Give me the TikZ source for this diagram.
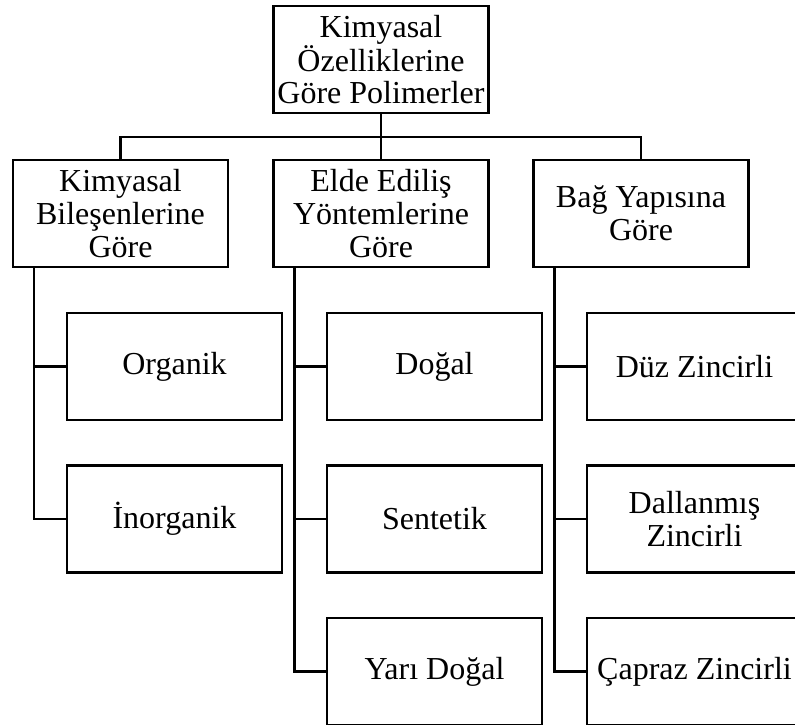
\documentclass[tikz,border=0pt]{standalone}
\usepackage{fontspec}
\setmainfont{Liberation Serif}
\begin{document}
\begin{tikzpicture}[x=1pt,y=-1pt,
  box/.style={draw=black,line width=2.7pt,minimum width=215pt,minimum height=107pt,
    inner sep=0pt,outer sep=0pt,align=center,font=\fontsize{32}{32.7}\selectfont},
  link/.style={draw=black,line width=2.7pt,line cap=rect}]
\useasboundingbox (0,0) rectangle (795,724);
\clip (0,0) rectangle (795,724);
\fill[white] (0,0) rectangle (795,724);
% top
\node[box] (top) at (381,59.5) {Kimyasal\\Özelliklerine\\Göre Polimerler};
% parents
\node[box] (p1) at (120.5,213.5) {Kimyasal\\Bileşenlerine\\Göre};
\node[box] (p2) at (381,213.5) {Elde Ediliş\\Yöntemlerine\\Göre};
\node[box] (p3) at (641,213.5) {Bağ Yapısına\\Göre};
% children
\node[box] (c11) at (174.5,366.5) {Organik};
\node[box] (c12) at (174.5,519) {İnorganik};
\node[box] (c21) at (434.5,366.5) {Doğal};
\node[box] (c22) at (434.5,519) {Sentetik};
\node[box] (c23) at (434.5,671.5) {Yarı Doğal};
\node[box] (c31) at (694.5,366.5) {Düz Zincirli};
\node[box] (c32) at (694.5,519) {Dallanmış\\Zincirli};
\node[box] (c33) at (694.5,671.5) {Çapraz Zincirli};
% connectors
\coordinate (bus) at (381,137);
\draw[link] (top.south) -- (p2.north);
\draw[link] (p1.north) |- (bus) -| (p3.north);
\coordinate (v1) at ([xshift=21pt]p1.south west);
\coordinate (v2) at ([xshift=21pt]p2.south west);
\coordinate (v3) at ([xshift=21pt]p3.south west);
\draw[link] (v1) |- (c11.west);
\draw[link] (v1) |- (c12.west);
\draw[link] (v2) |- (c21.west);
\draw[link] (v2) |- (c22.west);
\draw[link] (v2) |- (c23.west);
\draw[link] (v3) |- (c31.west);
\draw[link] (v3) |- (c32.west);
\draw[link] (v3) |- (c33.west);
\end{tikzpicture}
\end{document}
